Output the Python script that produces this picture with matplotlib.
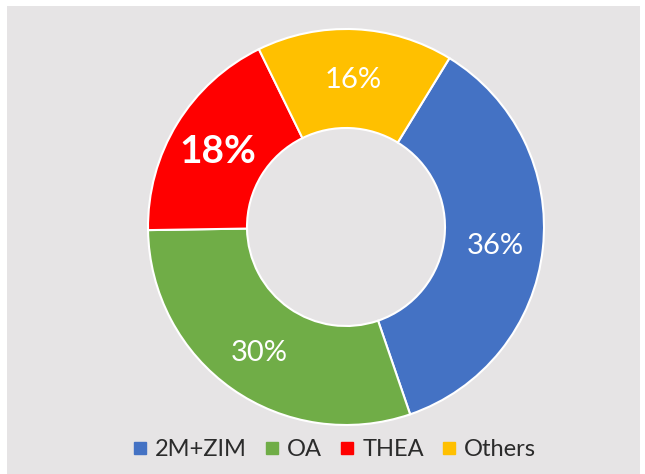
import numpy as np
import matplotlib.pyplot as plt
from matplotlib.patches import Rectangle
from matplotlib.lines import Line2D

plt.rcParams["font.family"] = ["Lato", "DejaVu Sans"]

labels = ["2M+ZIM", "OA", "THEA", "Others"]
shares = [36, 30, 18, 16]
colors = ["#4472C4", "#70AD47", "#FF0000", "#FFC000"]

fig = plt.figure(figsize=(6.45, 4.74), dpi=100)
fig.patches.append(Rectangle((7 / 645, 0), 633 / 645, 468 / 474,
                             transform=fig.transFigure, facecolor="#e6e4e5",
                             edgecolor="none", zorder=-10))

# donut axes: centre at (346, 227) px, outer radius ~198 px
cx, cy, r, half = 346, 227, 198, 205
ax = fig.add_axes([(cx - half) / 645, (474 - cy - half) / 474, 2 * half / 645, 2 * half / 474])
ax.set_facecolor("none")
wedges, _ = ax.pie(shares, colors=colors, startangle=58.5, counterclock=False,
                   radius=1, wedgeprops=dict(width=0.5, edgecolor="white", linewidth=1.5))

for lab, s, w in zip(labels, shares, wedges):
    mid = np.deg2rad((w.theta1 + w.theta2) / 2)
    x, y = 0.76 * np.cos(mid), 0.76 * np.sin(mid) - 0.015
    if lab == "THEA":
        ax.text(x, y, f"{s}%", color="white", fontsize=28, fontweight="bold",
                ha="center", va="center")
    else:
        ax.text(x, y, f"{s}%", color="white", fontsize=21, ha="center", va="center")

ax.set_xlim(-half / r, half / r)
ax.set_ylim(-half / r, half / r)
ax.set_aspect("equal")
ax.axis("off")

handles = [Line2D([], [], marker="s", linestyle="none", markersize=8,
                  markerfacecolor=c, markeredgecolor=c) for c in colors]
fig.legend(handles, labels, loc="center", bbox_to_anchor=(335 / 645, 1 - 450 / 474),
           ncol=4, frameon=False, fontsize=17, handlelength=0.5, handletextpad=0.4,
           columnspacing=0.8, labelcolor="#2b2b2b")

fig.savefig("out.png", dpi=100)
